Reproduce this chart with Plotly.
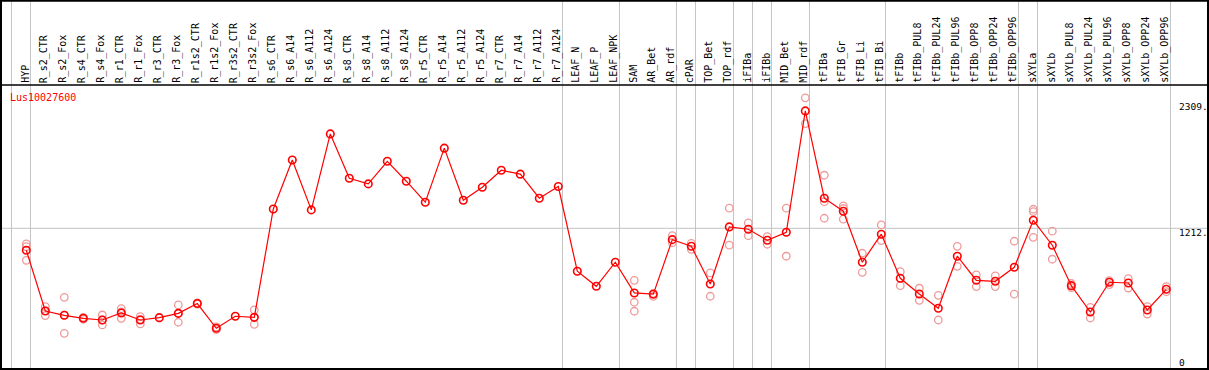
import plotly.graph_objects as go

# ---------------- data ----------------
categories = [
    "HYP", "R_s2_CTR", "R_s2_Fox", "R_s4_CTR", "R_s4_Fox", "R_r1_CTR", "R_r1_Fox",
    "R_r3_CTR", "R_r3_Fox", "R_r1s2_CTR", "R_r1s2_Fox", "R_r3s2_CTR", "R_r3s2_Fox",
    "R_s6_CTR", "R_s6_A14", "R_s6_A112", "R_s6_A124",
    "R_s8_CTR", "R_s8_A14", "R_s8_A112", "R_s8_A124",
    "R_r5_CTR", "R_r5_A14", "R_r5_A112", "R_r5_A124",
    "R_r7_CTR", "R_r7_A14", "R_r7_A112", "R_r7_A124",
    "LEAF_N", "LEAF_P", "LEAF_NPK", "SAM", "AR_Bet", "AR_rdf", "cPAR",
    "TOP_Bet", "TOP_rdf", "iFIBa", "iFIBb", "MID_Bet", "MID_rdf",
    "tFIBa", "tFIB_Gr", "tFIB_Li", "tFIB_Bi", "tFIBb",
    "tFIBb_PUL8", "tFIBb_PUL24", "tFIBb_PUL96", "tFIBb_OPP8", "tFIBb_OPP24", "tFIBb_OPP96",
    "sXYLa", "sXYLb",
    "sXYLb_PUL8", "sXYLb_PUL24", "sXYLb_PUL96", "sXYLb_OPP8", "sXYLb_OPP24", "sXYLb_OPP96",
]

mean_values = [
    1007, 439, 399, 371, 355, 421, 355, 377, 417, 509, 278, 390, 380,
    1393, 1851, 1384, 2094,
    1680, 1627, 1838, 1652,
    1456, 1961, 1474, 1596,
    1755, 1718, 1493, 1602,
    811, 670, 895, 608, 596, 1106, 1044,
    692, 1225, 1203, 1100, 1175, 2309,
    1493, 1372, 895, 1157, 745,
    598, 465, 951, 726, 717, 848,
    1287, 1054,
    676, 430, 708, 701, 449, 642,
]

replicates = [
    [1066, 1041, 913], [480, 396, 440], [567, 231, 400], [380, 362], [402, 309, 355],
    [461, 371, 430], [386, 318, 360], [], [496, 334, 420], [515, 503], [290, 265], [],
    [449, 315, 380],
    [], [], [], [],
    [], [], [], [],
    [], [], [], [],
    [], [], [], [],
    [], [], [], [726, 521, 437], [604, 575], [1143, 1078], [1072, 1016],
    [795, 577], [1400, 1054], [1262, 1143], [1134, 1063], [1400, 951], [2431, 2191],
    [1708, 1461, 1306], [1421, 1397, 1297], [979, 801], [1244, 1097], [807, 676],
    [652, 539], [586, 355], [1044, 857], [776, 667], [767, 667], [1091, 596],
    [1390, 1368, 1128], [1185, 923],
    [696, 658], [474, 374], [723, 686], [741, 654], [480, 411], [667, 620],
]

# group separators: index of last column in each group
group_ends = [-1, 0, 28, 31, 34, 35, 37, 38, 39, 41, 45, 52, 53, 60]

gene_id = "Lus10027600"
tick_values = [0, 1212, 2309]
tick_texts = ["0", "1212.", "2309."]

# ---------------- layout constants ----------------
W, H = 1209, 370
X0_PX, DX_PX = 26.3, 19.0          # pixel of first column, column pitch
Y0_PX, UNIT_PER_PX = 358.0, 9.345  # pixel of value 0, value units per pixel
HEADER_PX = 85
FONT = "DejaVu Sans Mono"

x_range = [(0 - X0_PX) / DX_PX, (W - X0_PX) / DX_PX]
y_range = [(Y0_PX - H) * UNIT_PER_PX, (Y0_PX - 0) * UNIT_PER_PX]


def py(p):
    """pixel row -> paper y"""
    return 1 - p / H


def px(p):
    return p / W


xs = list(range(len(categories)))
rep_x, rep_y = [], []
for i, reps in enumerate(replicates):
    for v in reps:
        rep_x.append(i)
        rep_y.append(v)

fig = go.Figure()

fig.add_trace(go.Scatter(
    x=rep_x, y=rep_y, mode="markers",
    marker=dict(symbol="circle-open", size=7.5, color="#EE9A9A", line=dict(width=1.3, color="#EE9A9A")),
    hoverinfo="skip",
))
fig.add_trace(go.Scatter(
    x=xs, y=mean_values, mode="lines+markers",
    line=dict(color="#FF0000", width=1.2),
    marker=dict(symbol="circle-open", size=7.5, color="#FF0000", line=dict(width=1.6, color="#FF0000")),
    text=categories,
))

shapes = []
# vertical group separators
for k in group_ends:
    shapes.append(dict(type="line", xref="x", yref="paper", x0=k + 0.22, x1=k + 0.22,
                       y0=py(369), y1=py(1), line=dict(color="#C4C4C4", width=1), layer="below"))
# horizontal grid at middle tick
shapes.append(dict(type="line", xref="paper", yref="y", x0=px(1), x1=px(1208),
                   y0=tick_values[1], y1=tick_values[1],
                   line=dict(color="#C4C4C4", width=1), layer="below"))
# header separator
shapes.append(dict(type="line", xref="paper", yref="paper", x0=px(1), x1=px(1208),
                   y0=py(HEADER_PX), y1=py(HEADER_PX), line=dict(color="black", width=1.5)))
# outer frame
shapes.append(dict(type="rect", xref="paper", yref="paper", x0=px(1), x1=px(1208),
                   y0=py(369), y1=py(0.8), line=dict(color="black", width=2)))

annotations = []
for i, name in enumerate(categories):
    annotations.append(dict(
        x=i, xref="x", y=py(HEADER_PX - 2), yref="paper", text=name, showarrow=False,
        textangle=-90, xanchor="center", yanchor="bottom", xshift=-1.5,
        borderpad=0, borderwidth=0, font=dict(family=FONT, size=10, color="black"),
    ))
annotations.append(dict(
    x=px(10), xref="paper", y=py(97), yref="paper", text=gene_id, showarrow=False,
    xanchor="left", yanchor="middle", borderpad=0, borderwidth=0,
    font=dict(family=FONT, size=10, color="#FF0000"),
))
label_shift = {0: -4, 1212: -4, 2309: 4}
for v, t in zip(tick_values, tick_texts):
    annotations.append(dict(
        x=px(1179), xref="paper", y=v, yref="y", text=t, showarrow=False,
        xanchor="left", yanchor="middle", yshift=label_shift[v], borderpad=0, borderwidth=0,
        font=dict(family=FONT, size=9.5, color="black"),
    ))

fig.update_layout(
    width=W, height=H,
    margin=dict(l=0, r=0, t=0, b=0, pad=0),
    paper_bgcolor="white", plot_bgcolor="white",
    showlegend=False,
    xaxis=dict(range=x_range, visible=False, fixedrange=True),
    yaxis=dict(range=y_range, visible=False, fixedrange=True),
    shapes=shapes, annotations=annotations,
)

fig.write_html("out.html", config={"displayModeBar": False},
               post_script="document.body.style.margin='0';document.body.style.padding='0';")
